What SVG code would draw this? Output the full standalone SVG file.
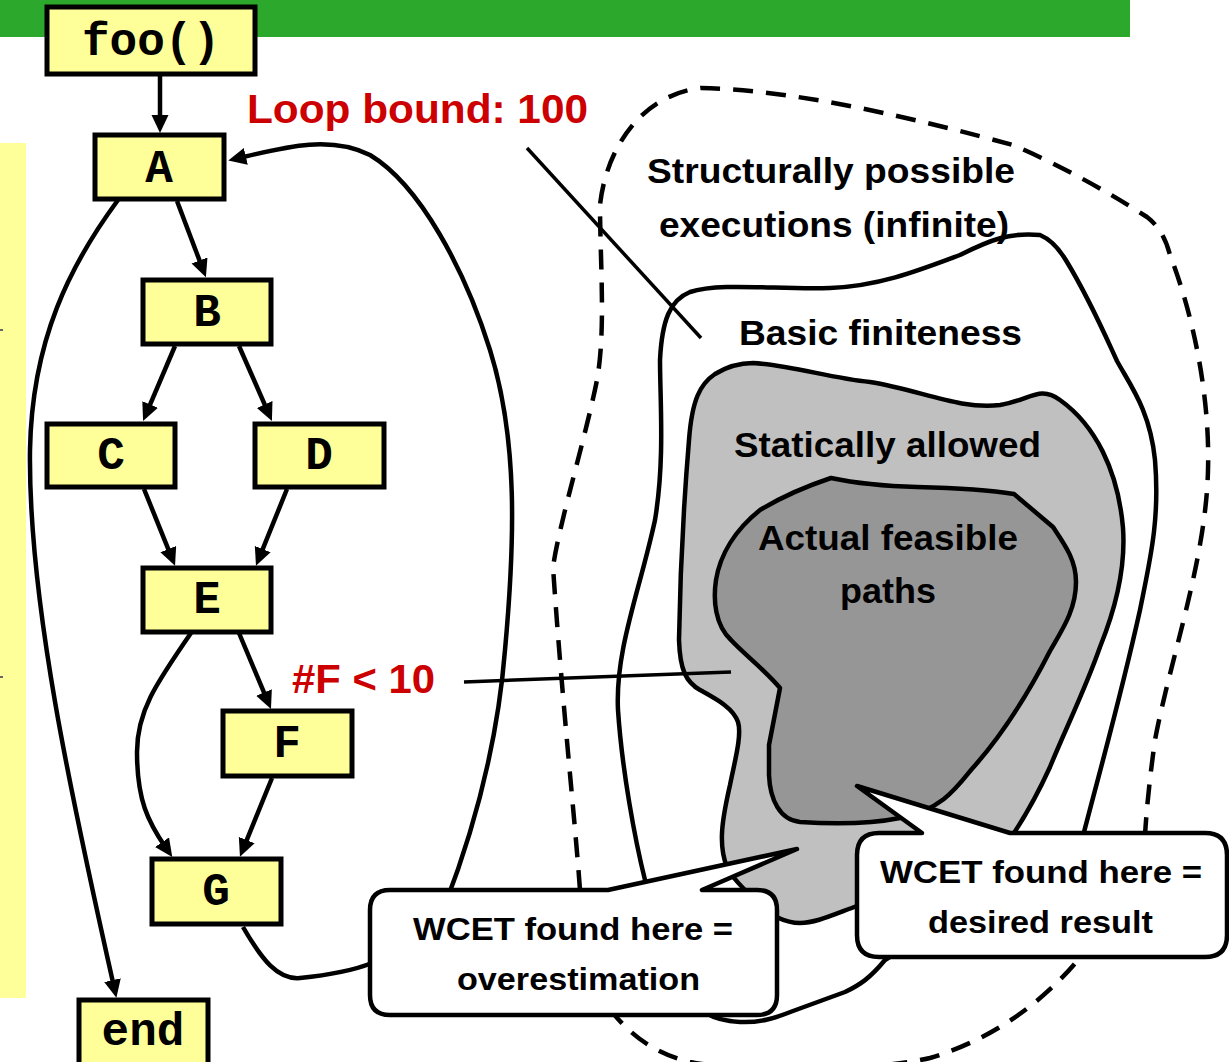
<svg xmlns="http://www.w3.org/2000/svg" width="1229" height="1062" viewBox="0 0 1229 1062">
<defs>
<style>
.node rect{fill:#FFFF99;stroke:#000;stroke-width:5}
.node text{font-family:"Liberation Mono","Courier New",monospace;font-weight:bold;font-size:46px;text-anchor:middle;fill:#000}
.edge{fill:none;stroke:#000;stroke-width:4.5;marker-end:url(#ah)}
.region{stroke:#000;stroke-width:4.5;stroke-linejoin:round}
.lbl{font-family:"Liberation Sans",Arial,sans-serif;font-weight:bold;text-anchor:middle;fill:#000}
.red{fill:#CC0000;font-size:40px}
.reg{font-size:35px}
.bub{font-size:32px}
.bubble{fill:#fff;stroke:#000;stroke-width:4.5;stroke-linejoin:round}
.ptr{stroke:#000;stroke-width:3.5;fill:none}
</style>
<marker id="ah" markerWidth="20" markerHeight="18" refX="7" refY="8.5" orient="auto" markerUnits="userSpaceOnUse">
<path d="M0,0 L18,8.5 L0,17 Z" fill="#000"/>
</marker>
</defs>

<g id="background">
<rect x="0" y="0" width="1130" height="37" fill="#2CA82C"/>
<rect x="0" y="143" width="26" height="855" fill="#FFFF99"/>
<rect x="0" y="329" width="3" height="2" fill="#666"/>
<rect x="0" y="676" width="3" height="2" fill="#666"/>
</g>

<g id="regions">
<path id="structurally-possible" class="region" fill="none" stroke-dasharray="20 13" d="M580,890 C575,820 562,700 553,567 C560,520 585,440 597,380 C606,330 600,260 600,205 C606,150 640,95 701,88 C800,90 920,120 1013,145 C1060,165 1110,193 1147,217 C1160,227 1166,240 1170,255 C1195,320 1210,400 1208,470 C1206,560 1170,660 1155,740 C1148,790 1146,820 1145,835 L1078,960 C1040,1005 990,1040 930,1058 C870,1072 740,1072 690,1062 C660,1055 635,1040 612,1012 Z"/>
<path id="basic-finiteness" class="region" fill="none" d="M690,292 C720,282 780,290 830,288 C880,286 920,270 960,255 C990,240 1010,232 1040,235 C1052,240 1060,250 1067,262 C1090,300 1105,335 1117,361 C1130,385 1150,410 1155,460 C1160,520 1150,560 1140,610 C1120,700 1100,770 1083,836 L885,960 C870,978 860,985 845,992 L793,1011 C775,1018 760,1023 740,1022 C725,1021 712,1018 705,1012 L645,880 C635,840 622,770 618,710 C615,650 640,590 655,520 C665,460 660,400 660,360 C662,320 670,300 690,292 Z"/>
<path id="statically-allowed" class="region" fill="#C0C0C0" d="M753,363 C790,365 830,378 870,382 C920,390 960,410 1000,405 C1030,400 1040,385 1060,400 C1095,425 1118,470 1123,528 C1126,570 1115,610 1100,647 C1085,690 1065,730 1050,767 C1035,800 1024,818 1012,836 L857,906 C830,916 815,923 800,923 C785,923 770,915 760,905 C745,890 732,878 727,867 C718,845 722,820 730,785 C735,760 742,735 738,722 C733,708 718,700 700,690 C686,682 680,670 679,640 C680,580 684,500 689,440 C692,400 700,384 715,374 C728,366 740,363 753,363 Z"/>
<path id="actual-feasible" class="region" fill="#969696" d="M831,478 C850,482 880,486 917,487 C960,488 990,490 1014,494 L1053,527 C1065,545 1076,560 1076,582 C1076,610 1062,630 1050,651 C1025,700 998,740 971,770 C955,790 940,810 900,818 C870,824 830,824 800,822 C780,820 770,800 769,775 L769,745 L780,688 C765,670 745,655 731,640 C715,625 713,600 716,580 C720,555 735,530 760,510 C785,495 810,485 831,478 Z"/>
</g>

<g id="pointers">
<line class="ptr" x1="527" y1="148" x2="701" y2="338"/>
<line class="ptr" x1="464" y1="682" x2="731" y2="672"/>
</g>

<g id="connectors">
<path class="edge" d="M160,76 L160,122"/>
<path class="edge" d="M177,201 L202,267"/>
<path class="edge" d="M175,346 L147.4,410.9"/>
<path class="edge" d="M239,346 L267.5,410.9"/>
<path class="edge" d="M144,489 L170.9,555.6"/>
<path class="edge" d="M287,489 L260.1,555.6"/>
<path class="edge" d="M239,633 L266.7,698.9"/>
<path class="edge" d="M272,778 L244.1,846.6"/>
<path class="edge" d="M191,633 C155,685 137,712 137,752 C137,800 148,822 166,848"/>
<path class="edge" d="M118,200 C70,265 32,340 30,450 C28,600 72,800 114,987"/>
<path class="edge" d="M243,927 C262,960 278,980 300,978 C330,975 352,971 372,963 L445,905 C470,840 497,750 505,650 C515,540 518,440 490,350 C465,270 420,185 370,155 C330,135 285,147 239,158"/>
</g>

<g id="node-foo" class="node"><rect x="47" y="7" width="208" height="67"/><text x="151" y="55">foo()</text></g>
<g id="node-A" class="node"><rect x="95" y="135" width="129" height="64"/><text x="159" y="182">A</text></g>
<g id="node-B" class="node"><rect x="143" y="280" width="128" height="64"/><text x="207" y="326">B</text></g>
<g id="node-C" class="node"><rect x="47" y="424" width="128" height="63"/><text x="111" y="469">C</text></g>
<g id="node-D" class="node"><rect x="255" y="424" width="129" height="63"/><text x="319" y="469">D</text></g>
<g id="node-E" class="node"><rect x="143" y="568" width="128" height="64"/><text x="207" y="613">E</text></g>
<g id="node-F" class="node"><rect x="223" y="711" width="129" height="65"/><text x="287" y="757">F</text></g>
<g id="node-G" class="node"><rect x="152" y="859" width="129" height="65"/><text x="216" y="905">G</text></g>
<g id="node-end" class="node"><rect x="79" y="1000" width="129" height="66"/><text x="143" y="1045">end</text></g>

<g id="bubble-overestimation">
<path class="bubble" d="M390,890 L608,890 L797,849 L702,890 L757,890 Q777,890 777,910 L777,995 Q777,1015 757,1015 L390,1015 Q370,1015 370,995 L370,910 Q370,890 390,890 Z"/>
<text class="lbl bub" x="573" y="940" textLength="320" lengthAdjust="spacingAndGlyphs">WCET found here =</text>
<text class="lbl bub" x="578.5" y="990" textLength="243" lengthAdjust="spacingAndGlyphs">overestimation</text>
</g>

<g id="bubble-desired">
<path class="bubble" d="M879,833 L922,833 L857,786 L1010,833 L1205,833 Q1227,833 1227,855 L1227,935 Q1227,957 1205,957 L879,957 Q857,957 857,935 L857,855 Q857,833 879,833 Z"/>
<text class="lbl bub" x="1041" y="883" textLength="322" lengthAdjust="spacingAndGlyphs">WCET found here =</text>
<text class="lbl bub" x="1040.5" y="933" textLength="225" lengthAdjust="spacingAndGlyphs">desired result</text>
</g>

<g id="labels">
<text class="lbl red" x="417.5" y="123" textLength="341" lengthAdjust="spacingAndGlyphs">Loop bound: 100</text>
<text class="lbl red" x="363.5" y="693" textLength="143" lengthAdjust="spacingAndGlyphs">#F &lt; 10</text>
<text class="lbl reg" x="831" y="183" textLength="368" lengthAdjust="spacingAndGlyphs">Structurally possible</text>
<text class="lbl reg" x="834" y="237" textLength="350" lengthAdjust="spacingAndGlyphs">executions (infinite)</text>
<text class="lbl reg" x="880.5" y="345" textLength="283" lengthAdjust="spacingAndGlyphs">Basic finiteness</text>
<text class="lbl reg" x="887.5" y="457" textLength="307" lengthAdjust="spacingAndGlyphs">Statically allowed</text>
<text class="lbl reg" x="888" y="550" textLength="260" lengthAdjust="spacingAndGlyphs">Actual feasible</text>
<text class="lbl reg" x="888" y="603" textLength="96" lengthAdjust="spacingAndGlyphs">paths</text>
</g>
</svg>
